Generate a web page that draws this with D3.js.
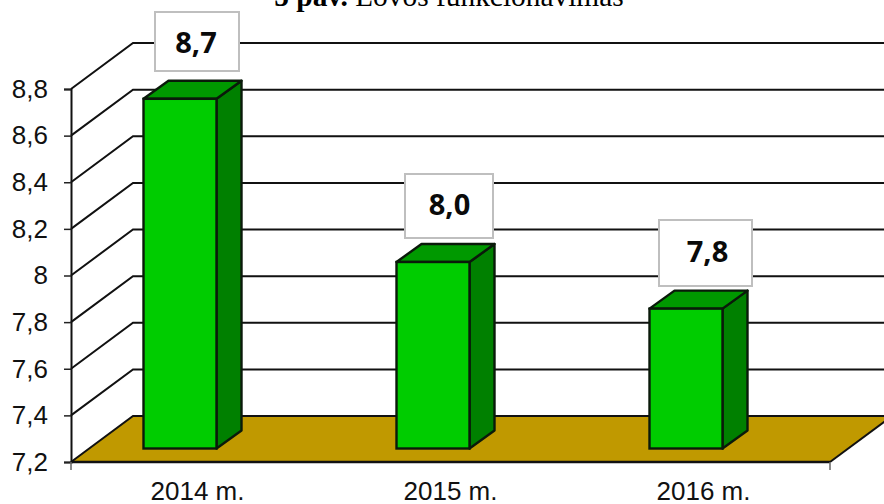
<!DOCTYPE html>
<html><head><meta charset="utf-8">
<script src="https://cdnjs.cloudflare.com/ajax/libs/d3/7.8.5/d3.min.js"></script>
<style>html,body{margin:0;padding:0;background:#fff;overflow:hidden}svg{display:block}</style>
</head><body><svg id="c" width="884" height="504"></svg>
<script>
const categories = ["2014 m.", "2015 m.", "2016 m."];
const values = [8.7, 8.0, 7.8];
const valueLabels = ["8,7", "8,0", "7,8"];
const yTicks = [7.2, 7.4, 7.6, 7.8, 8.0, 8.2, 8.4, 8.6, 8.8];
const yTickLabels = ["7,2", "7,4", "7,6", "7,8", "8", "8,2", "8,4", "8,6", "8,8"];

const svg = d3.select("#c");
const L = 71, R = 830, Bot = 462, Top = 89;
const wallDx = 62, wallDy = -46;
const y = d3.scaleLinear().domain([7.2, 8.8]).range([Bot, Top]);
const x = d3.scaleBand().domain(categories).range([L, R]);
const barW = 73, barDx = 25, barDy = -18, barInsetY = 13.5, barShift = -17.5;
const boxes = [[155, 12, 84, 59], [405, 174, 88, 64], [659, 220, 93, 66]];
const labelNudge = [[0, 0], [1.5, -2], [3, -2]];

// floor
svg.append("path")
  .attr("d", d3.line()([[L, Bot], [L + wallDx, Bot + wallDy], [R + wallDx, Bot + wallDy], [R, Bot]]) + "Z")
  .attr("fill", "#c09900").attr("stroke", "none");
svg.append("line").attr("x1", L + wallDx).attr("x2", R + wallDx).attr("y1", Bot + wallDy).attr("y2", Bot + wallDy)
  .attr("stroke", "#111").attr("stroke-width", 1.5);
svg.append("path").attr("d", d3.line()([[R, Bot], [R + wallDx, Bot + wallDy]])).attr("fill", "none")
  .attr("stroke", "#111").attr("stroke-width", 2);

// grid
const gridLine = d3.line();
svg.append("g").selectAll("path").data(yTicks).join("path")
  .attr("d", t => gridLine([[L, y(t)], [L + wallDx, y(t) + wallDy], [R + wallDx, y(t) + wallDy]]))
  .attr("fill", "none").attr("stroke", "#111").attr("stroke-width", 2);

// axes
const yAxis = d3.axisLeft(y).tickValues(yTicks).tickFormat((d, i) => yTickLabels[i]).tickSize(7).tickPadding(16);
const gy = svg.append("g").attr("transform", `translate(${L},0)`).call(yAxis);
gy.selectAll("line").attr("stroke", "#222").attr("stroke-width", 1.5);
gy.select(".domain").attr("stroke", "#111").attr("stroke-width", 2);
gy.selectAll("text").attr("font-family", "Liberation Sans").attr("font-size", 26).attr("fill", "#111");

const xAxis = d3.axisBottom(x).tickValues(categories).tickSize(0).tickPadding(20);
const gx = svg.append("g").attr("transform", `translate(0,${Bot})`).call(xAxis);
gx.select(".domain").remove();
gx.selectAll("text").attr("font-family", "Liberation Sans").attr("font-size", 26).attr("fill", "#111");
svg.append("line").attr("x1", L).attr("x2", R).attr("y1", Bot).attr("y2", Bot).attr("stroke", "#111").attr("stroke-width", 2.5);
svg.append("g").selectAll("line").data([L, R]).join("line")
  .attr("x1", d => d).attr("x2", d => d).attr("y1", Bot).attr("y2", Bot + 8)
  .attr("stroke", "#666").attr("stroke-width", 1.5);

// bars
const bars = svg.append("g").selectAll("g").data(values).join("g");
const bx = i => x(categories[i]) + (x.bandwidth() - barW) / 2 + barShift;
const by0 = Bot - barInsetY;
const by1 = v => y(v) - barInsetY;
const stroke = "#0a1a0a";
const sw = 2.4;
bars.append("path").attr("d", (v, i) => d3.line()([[bx(i) + barW, by1(v)], [bx(i) + barW + barDx, by1(v) + barDy], [bx(i) + barW + barDx, by0 + barDy], [bx(i) + barW, by0]]) + "Z")
  .attr("fill", "#008000").attr("stroke", stroke).attr("stroke-width", sw).attr("stroke-linejoin", "round");
bars.append("path").attr("d", (v, i) => d3.line()([[bx(i), by1(v)], [bx(i) + barDx, by1(v) + barDy], [bx(i) + barW + barDx, by1(v) + barDy], [bx(i) + barW, by1(v)]]) + "Z")
  .attr("fill", "#009900").attr("stroke", stroke).attr("stroke-width", sw).attr("stroke-linejoin", "round");
bars.append("rect").attr("x", (v, i) => bx(i)).attr("y", v => by1(v)).attr("width", barW).attr("height", v => by0 - by1(v))
  .attr("fill", "#00cc00").attr("stroke", stroke).attr("stroke-width", sw);

// value labels
const lab = svg.append("g").selectAll("g").data(valueLabels).join("g");
lab.append("rect").attr("x", (d, i) => boxes[i][0]).attr("y", (d, i) => boxes[i][1])
  .attr("width", (d, i) => boxes[i][2]).attr("height", (d, i) => boxes[i][3])
  .attr("fill", "#fff").attr("stroke", "#bfbfbf").attr("stroke-width", 2);
lab.append("text").attr("x", (d, i) => boxes[i][0] + boxes[i][2] / 2 - 1 + labelNudge[i][0]).attr("y", (d, i) => boxes[i][1] + boxes[i][3] / 2 + 11 + labelNudge[i][1])
  .attr("text-anchor", "middle").attr("font-family", "Open Sans").attr("font-weight", 700)
  .attr("font-size", 29).attr("fill", "#0a0a0a").text(d => d);

// title
const title = svg.append("text").attr("x", 449).attr("y", 6).attr("text-anchor", "middle")
  .attr("font-family", "Liberation Serif").attr("font-size", 29.4).attr("fill", "#000");
title.append("tspan").attr("font-weight", 700).text("5 pav. ");
title.append("tspan").text("Lovos funkcionavimas");
</script></body></html>
